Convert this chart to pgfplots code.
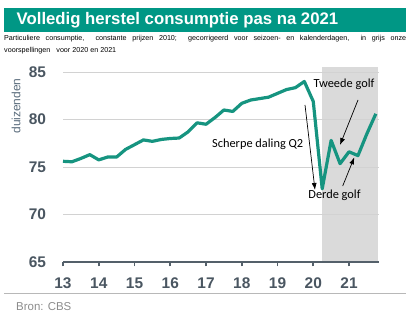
\documentclass[border=0pt]{standalone}
\usepackage{pgfplots}
\pgfplotsset{compat=1.18}
\usepackage{fontspec}
\setmainfont{Liberation Sans}
\newfontfamily\calibri{Carlito}
\usetikzlibrary{arrows.meta}
\definecolor{titlebar}{RGB}{0,151,133}
\definecolor{linecol}{RGB}{22,148,128}
\definecolor{axiscol}{RGB}{84,96,106}
\definecolor{labcol}{RGB}{74,86,97}
\definecolor{gridcol}{RGB}{210,210,210}
\definecolor{shade}{RGB}{218,218,218}
\definecolor{srccol}{RGB}{140,140,140}
\definecolor{ylabcol}{RGB}{90,108,124}
\pgfplotstableread{
x y
13.00 75.6
13.25 75.55
13.50 75.9
13.75 76.3
14.00 75.75
14.25 76.05
14.50 76.05
14.75 76.85
15.00 77.35
15.25 77.85
15.50 77.7
15.75 77.9
16.00 78.0
16.25 78.05
16.50 78.7
16.75 79.65
17.00 79.5
17.25 80.2
17.50 81.0
17.75 80.85
18.00 81.7
18.25 82.05
18.50 82.2
18.75 82.35
19.00 82.75
19.25 83.15
19.50 83.35
19.75 84.0
20.00 81.9
20.25 72.7
20.50 77.8
20.75 75.35
21.00 76.6
21.25 76.2
21.50 78.5
21.75 80.6
}\consumptie
\begin{document}
\begin{tikzpicture}
\fill[titlebar] (4bp,297.7bp) rectangle (406bp,321.7bp);
\node[anchor=west, text=white, font=\bfseries\fontsize{16.8}{20}\selectfont, inner sep=0] at (16.5bp,309.5bp) {Volledig herstel consumptie pas na 2021};
\node[anchor=north west, inner sep=0, text width=402bp, align=justify, font=\fontsize{7.2}{11.7}\selectfont] at (4bp,294.5bp) {Particuliere consumptie,\ \ constante prijzen 2010;\ \ gecorrigeerd voor seizoen- en kalenderdagen,\ \ in grijs onze\linebreak voorspellingen\ \ \ voor\ 2020\ en 2021};
\node[rotate=90, font=\fontsize{12}{14}\selectfont, text=ylabcol] at (16bp,224bp) {duizenden};
\draw[black!28, line width=1.3bp] (4bp,36.7bp) -- (406bp,36.7bp);
\node[anchor=west, inner sep=0, text=srccol, font=\fontsize{11.5}{13}\selectfont] at (16bp,23.5bp) {Bron: CBS};
\begin{axis}[
  at={(63bp,68bp)}, anchor=south west,
  scale only axis, width=316.4bp, height=194.75bp,
  xmin=13, xmax=21.85, ymin=65, ymax=85.5,
  xtick={13,14,...,21}, ytick={65,70,75,80,85},
  set layers,
  axis x line*=bottom, axis y line*=left,
  x axis line style={line width=2.2bp, draw=axiscol, -},
  y axis line style={draw=none},
  ymajorgrids, grid style={draw=gridcol, line width=0.9bp},
  xtick style={draw=axiscol, line width=1.8bp},
  ytick style={draw=none},
  tick align=outside, major tick length=4.5bp,
  /pgf/number format/assume math mode=true,
  ticklabel style={font=\bfseries\fontsize{15.5}{17}\selectfont, text=labcol},
  xticklabel style={yshift=-7.5bp},
  yticklabel style={xshift=-9bp},
  clip=false,
]
\begin{pgfonlayer}{axis background}
\addplot[fill=shade, draw=none] coordinates {(20.25,65) (21.82,65) (21.82,85.5) (20.25,85.5)};
\end{pgfonlayer}
\addplot[linecol, line width=3.2bp, line join=round] table[x=x,y=y] {\consumptie};
\end{axis}
\node[font=\calibri\fontsize{12.4}{14}\selectfont, inner sep=0] at (344bp,246bp) {Tweede golf};
\node[font=\calibri\fontsize{12.4}{14}\selectfont, inner sep=0] at (257.7bp,186bp) {Scherpe daling Q2};
\node[font=\calibri\fontsize{12.4}{14}\selectfont, inner sep=0] at (334.5bp,135bp) {Derde golf};
\draw[-{Latex[length=7bp,width=5bp]}, line width=0.7bp] (305bp,225bp) -- (315bp,140bp);
\draw[-{Latex[length=7bp,width=5bp]}, line width=0.7bp] (358bp,230bp) -- (340bp,185bp);
\draw[-{Latex[length=7bp,width=5bp]}, line width=0.7bp] (342.7bp,144bp) -- (354.3bp,172.7bp);
\pgfresetboundingbox
\useasboundingbox (0,0) rectangle (418bp,330bp);
\end{tikzpicture}
\end{document}
